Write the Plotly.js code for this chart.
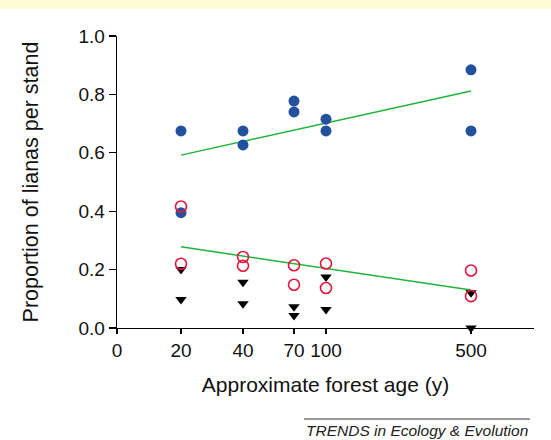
<!DOCTYPE html>
<html>
<head>
<meta charset="utf-8">
<script src="https://cdn.plot.ly/plotly-3.0.1.min.js"></script>
<style>
  html, body { margin: 0; padding: 0; background: #ffffff; }
  #chart { width: 551px; height: 440px; }
</style>
</head>
<body>
<div id="chart"></div>
<script>
// Forest age classes and where each sits on the (non-linear) age axis
const ageTicks = [0, 20, 40, 70, 100, 500];
const ageTickPos = [0, 64, 126, 177, 209, 354];

// Two stands per age class
const ages = [20, 20, 40, 40, 70, 70, 100, 100, 500, 500];
const blueVals = [0.675, 0.395, 0.675, 0.627, 0.777, 0.740, 0.715, 0.675, 0.884, 0.675];
const redVals = [0.416, 0.220, 0.243, 0.213, 0.215, 0.148, 0.221, 0.137, 0.197, 0.109];
const blackVals = [0.200, 0.098, 0.157, 0.083, 0.073, 0.043, 0.175, 0.063, 0.121, 0.000];

// Regression lines (endpoints)
const fitAges = [20, 500];
const fitUpper = [0.592, 0.812];
const fitLower = [0.278, 0.130];

function pos(a) { return ageTickPos[ageTicks.indexOf(a)]; }
const xs = ages.map(pos);
const fx = fitAges.map(pos);

const FONT = "Liberation Sans, Arial, sans-serif";

const traces = [
  { x: fx, y: fitUpper, mode: 'lines', line: { color: '#1fb53a', width: 1.5 }, hoverinfo: 'skip' },
  { x: fx, y: fitLower, mode: 'lines', line: { color: '#1fb53a', width: 1.5 }, hoverinfo: 'skip' },
  { x: xs, y: blueVals, mode: 'markers', cliponaxis: false,
    marker: { symbol: 'circle', size: 11, color: '#24519d' } },
  { x: xs, y: blackVals, mode: 'markers', cliponaxis: false,
    marker: { symbol: 'triangle-down', size: 10, color: '#000000' } },
  { x: xs, y: redVals, mode: 'markers', cliponaxis: false,
    marker: { symbol: 'circle-open', size: 11, color: '#e2173b', line: { width: 1.6, color: '#e2173b' } } }
];

const layout = {
  width: 551, height: 440,
  margin: { l: 117, r: 17, t: 36, b: 112 },
  paper_bgcolor: '#ffffff', plot_bgcolor: '#ffffff',
  showlegend: false,
  font: { family: FONT, color: '#111111' },
  xaxis: {
    range: [0, 417], tickmode: 'array', tickvals: ageTickPos, ticktext: ageTicks.map(String),
    showgrid: false, zeroline: false, showline: true, linecolor: '#000', linewidth: 1.3,
    ticks: 'outside', ticklen: 5, tickwidth: 1.2, tickcolor: '#000',
    tickfont: { size: 19, family: FONT, color: '#111' },
    title: { text: 'Approximate forest age (y)', font: { size: 21, family: FONT, color: '#111' }, standoff: 17 }
  },
  yaxis: {
    range: [0, 1], tickvals: [0, 0.2, 0.4, 0.6, 0.8, 1.0], ticktext: ['0.0', '0.2', '0.4', '0.6', '0.8', '1.0'],
    showgrid: false, zeroline: false, showline: true, linecolor: '#000', linewidth: 1.3,
    ticks: 'outside', ticklen: 7, tickwidth: 1.2, tickcolor: '#000',
    tickfont: { size: 19, family: FONT, color: '#111' },
    title: { text: 'Proportion of lianas per stand', font: { size: 21.5, family: FONT, color: '#111' }, standoff: 34 }
  },
  shapes: [
    { type: 'rect', xref: 'paper', yref: 'paper', x0: -0.3, x1: 1.1, y0: 1 + 27 / 292, y1: 1 + 40 / 292,
      fillcolor: '#fffbd6', line: { width: 0 }, layer: 'below' },
    { type: 'line', xref: 'paper', yref: 'paper', x0: (304 - 117) / 417, x1: (530 - 117) / 417,
      y0: (328 - 419) / 292, y1: (328 - 419) / 292, line: { color: '#333', width: 1 } }
  ],
  annotations: [
    { xref: 'paper', yref: 'paper', x: (530 - 117) / 417, y: (328 - 430) / 292,
      xanchor: 'right', yanchor: 'middle', showarrow: false,
      text: '<i>TRENDS in Ecology &amp; Evolution</i>',
      font: { size: 15.5, family: FONT, color: '#222' } }
  ]
};

Plotly.newPlot('chart', traces, layout, { staticPlot: true, displayModeBar: false });
</script>
</body>
</html>
